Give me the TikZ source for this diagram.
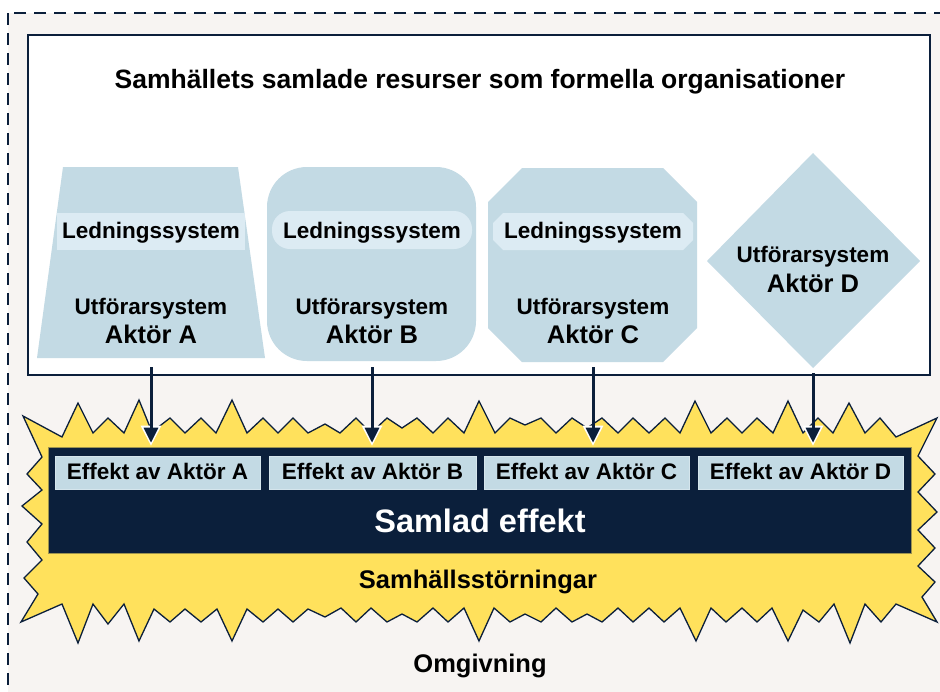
\documentclass[tikz,border=0pt]{standalone}
\usepackage{fontspec}
\setmainfont{Liberation Sans}
\usetikzlibrary{arrows.meta}
\definecolor{navy}{HTML}{0B1F3B}
\definecolor{bgc}{HTML}{F7F4F2}
\definecolor{shapec}{HTML}{C3DAE4}
\definecolor{bandc}{HTML}{DCEBF3}
\definecolor{yel}{HTML}{FFE15C}
\tikzset{
  lbl/.style={font=\bfseries\fontsize{22.5}{26}\selectfont, inner sep=0pt, anchor=base, text=black},
  big/.style={font=\bfseries\fontsize{25.5}{28}\selectfont, inner sep=0pt, anchor=base, text=black},
  effbox/.style={fill=shapec, draw=shapec!70!white, line width=0.6pt},
  efftxt/.style={font=\bfseries\fontsize{22.5}{26}\selectfont, inner sep=0pt, anchor=base, text=black},
  arrw/.style={draw=navy, line width=3pt, -{Triangle[length=15pt,width=14pt]}},
  arrwbg/.style={draw=white, line width=3pt, -{Triangle[length=20pt,width=20pt]}}
}
\begin{document}
\begin{tikzpicture}[x=1pt,y=-1pt]
\useasboundingbox (0,0) rectangle (940,691);
% background and dashed frame
\fill[bgc] (8,13) rectangle (945,700);
\draw[navy, line width=2pt, dash pattern=on 12pt off 8pt] (8,13) rectangle (960,720);
% white box of resources
\node[draw=navy, fill=white, line width=1.3pt, minimum width=902pt, minimum height=340pt, inner sep=0pt] (res) at (479,205) {};
\node[big, font=\bfseries\fontsize{26.5}{30}\selectfont] (title) at (480,88) {Samhällets samlade resurser som formella organisationer};

% Actor A: trapezium
\fill[shapec] (63,167) -- (238,167) -- (265,358) -- (37,358) -- cycle;
\fill[bandc] (57,213) rectangle (245,250);
\node[lbl] (ledA) at (151,238) {Ledningssystem};
\node[lbl] (utfA) at (151,314) {Utförarsystem};
\node[big] (aktA) at (151,343) {Aktör A};
\coordinate (sA) at (151,367);

% Actor B: rounded rectangle
\fill[shapec, rounded corners=40pt] (267,167) rectangle (476,361);
\fill[bandc, rounded corners=18pt] (272,211) rectangle (472,249);
\node[lbl] (ledB) at (372,238) {Ledningssystem};
\node[lbl] (utfB) at (372,314) {Utförarsystem};
\node[big] (aktB) at (372,343) {Aktör B};
\coordinate (sB) at (372,367);

% Actor C: octagon
\fill[shapec] (522,168) -- (663,168) -- (697,202) -- (697,328) -- (663,362) -- (522,362) -- (488,328) -- (488,202) -- cycle;
\fill[bandc] (503,213) -- (683,213) -- (693,223) -- (693,240) -- (683,250) -- (503,250) -- (493,240) -- (493,223) -- cycle;
\node[lbl] (ledC) at (593,238) {Ledningssystem};
\node[lbl] (utfC) at (593,314) {Utförarsystem};
\node[big] (aktC) at (593,343) {Aktör C};
\coordinate (sC) at (593,367);

% Actor D: diamond
\fill[shapec] (813,153) -- (920,261) -- (813,368) -- (707,261) -- cycle;
\node[lbl] (utfD) at (813,262) {Utförarsystem};
\node[big] (aktD) at (813,292) {Aktör D};
\coordinate (sD) at (813,373);

% starburst of societal disturbances
\filldraw[fill=yel, draw=navy, line width=1.3pt, line join=miter]
 (23,416) -- (62,437) -- (78,403) -- (93,433) -- (108,418) -- (124,433) -- (139,400) -- (152,432) -- (170,418) -- (185,433) -- (201,418) -- (216,433) -- (232,400) -- (247,433) -- (263,418) -- (278,433) -- (293,418) -- (308,433) -- (325,424) -- (340,433) -- (356,418) -- (371,433) -- (387,418) -- (402,428) -- (417,418) -- (433,433) -- (448,418) -- (464,433) -- (479,401) -- (495,433) -- (510,418) -- (525,425) -- (541,418) -- (556,433) -- (572,418) -- (587,428) -- (602,418) -- (618,433) -- (633,418) -- (649,433) -- (665,418) -- (680,433) -- (695,401) -- (711,433) -- (727,418) -- (742,433) -- (757,418) -- (773,433) -- (788,401) -- (803,433) -- (818,418) -- (833,433) -- (849,403) -- (865,433) -- (880,418) -- (896,437) -- (937,418)
 -- (918,456) -- (935,474) -- (918,492) -- (937,512) -- (918,530) -- (935,548) -- (918,566) -- (935,582) -- (922,597) -- (937,622)
 -- (896,604) -- (881,622) -- (865,604) -- (850,643) -- (834,604) -- (819,622) -- (803,610) -- (788,641) -- (772,608) -- (757,622) -- (742,608) -- (726,622) -- (711,608) -- (696,641) -- (680,608) -- (664,622) -- (649,608) -- (633,622) -- (618,608) -- (602,622) -- (587,614) -- (572,622) -- (556,608) -- (541,622) -- (525,614) -- (510,622) -- (494,608) -- (479,641) -- (464,608) -- (448,622) -- (433,608) -- (417,622) -- (402,614) -- (387,622) -- (371,608) -- (356,622) -- (341,608) -- (325,617) -- (308,609) -- (293,622) -- (278,609) -- (263,622) -- (247,609) -- (232,641) -- (217,609) -- (201,622) -- (185,609) -- (170,622) -- (154,609) -- (139,641) -- (124,604) -- (108,624) -- (93,604) -- (78,643) -- (62,604) -- (21,622)
 -- (38,594) -- (24,578) -- (42,560) -- (27,542) -- (42,524) -- (22,506) -- (42,490) -- (27,474) -- (42,457) -- cycle;

% combined effect
\node[fill=navy, draw=yel!60!navy, line width=0.6pt, minimum width=863pt, minimum height=106pt, inner sep=0pt] (samlad) at (479.5,500) {};
\node[big, text=white, font=\bfseries\fontsize{32.5}{36}\selectfont] (samtxt) at (480,532) {Samlad effekt};

\fill[effbox] (55,456) rectangle (260,489);
\node[efftxt] (effA) at (157.5,479) {Effekt av Aktör A};
\fill[effbox] (269,456) rectangle (476,489);
\node[efftxt] (effB) at (372.5,479) {Effekt av Aktör B};
\fill[effbox] (484,456) rectangle (689,489);
\node[efftxt] (effC) at (586.5,479) {Effekt av Aktör C};
\fill[effbox] (698,456) rectangle (903,489);
\node[efftxt] (effD) at (800.5,479) {Effekt av Aktör D};

\node[big] (stor) at (478,588) {Samhällsstörningar};
\node[big] (omg) at (480,672) {Omgivning};

% arrows
\foreach \s in {sA,sB,sC,sD}{
  \draw[arrwbg] (\s) -- ([yshift=1pt]samlad.north -| \s);
  \draw[arrw] (\s) -- ([yshift=4pt]samlad.north -| \s);
}
\end{tikzpicture}
\end{document}
